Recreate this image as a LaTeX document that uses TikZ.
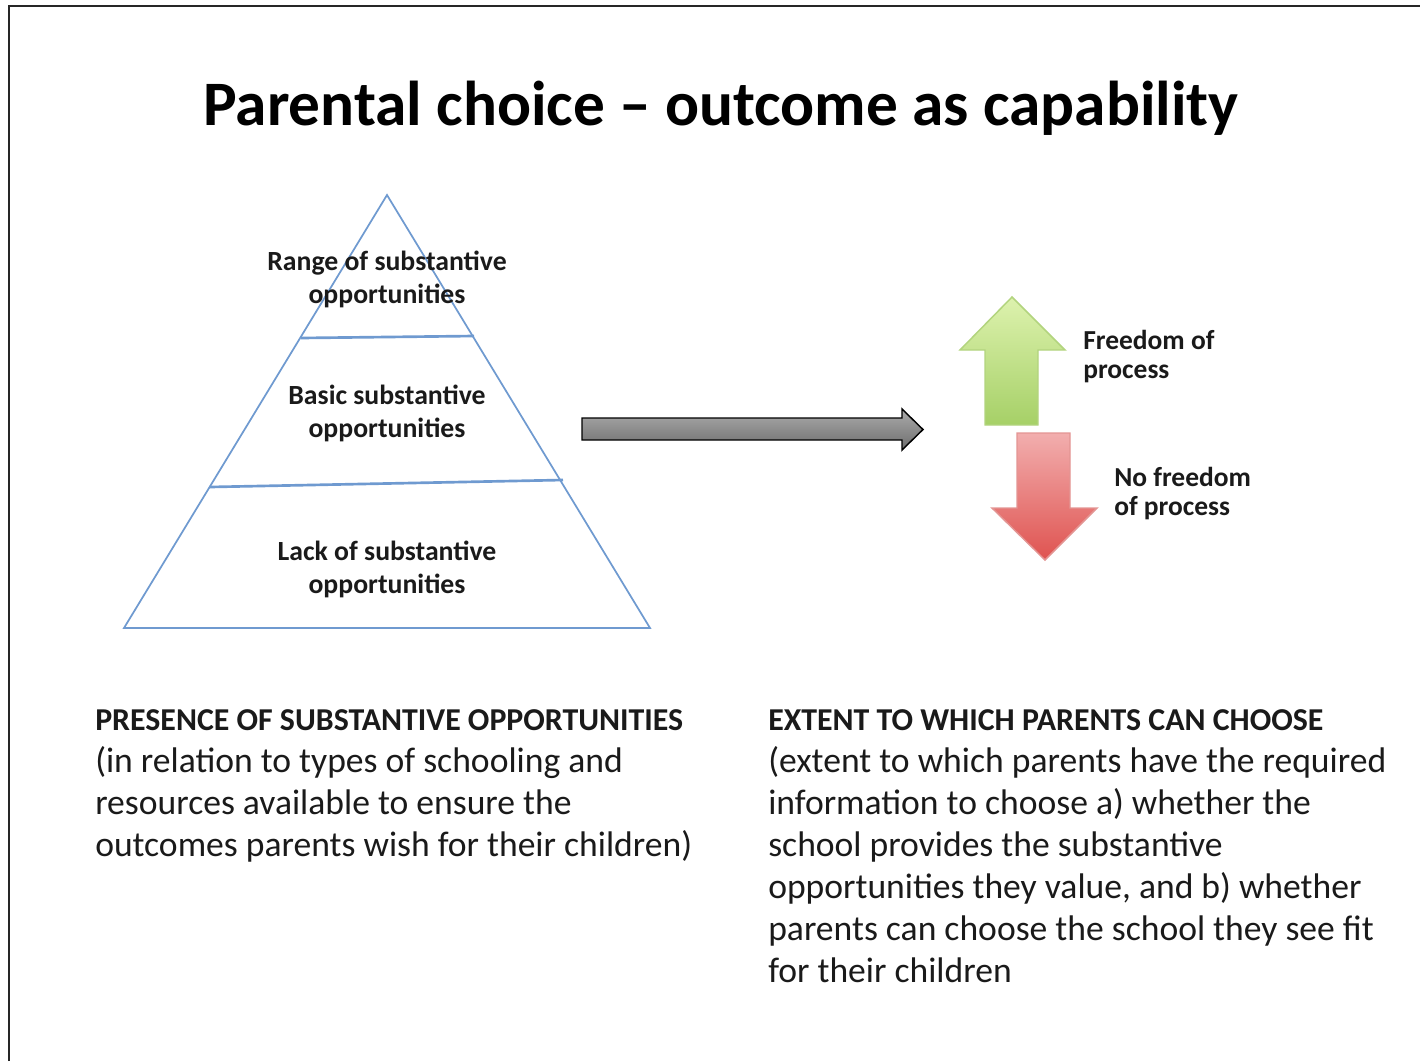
\documentclass[tikz,border=0pt]{standalone}
\usepackage{fontspec}
\setmainfont{Carlito}
\usepackage{tikz}
\usetikzlibrary{positioning,calc}

\definecolor{pyrline}{HTML}{6F9AD0}
\definecolor{textdark}{HTML}{1A1A1A}
\definecolor{greentop}{HTML}{DDF2AE}
\definecolor{greenbot}{HTML}{A6D067}
\definecolor{greenedge}{HTML}{B2D47E}
\definecolor{redtop}{HTML}{F2AEAE}
\definecolor{redbot}{HTML}{DF5350}
\definecolor{rededge}{HTML}{E39593}

\newcommand{\bodyheadfont}{\fontsize{23.9}{31.5}\selectfont\bfseries}

\tikzset{
    pyrlabel/.style={align=center, anchor=base, inner sep=0pt, text=textdark,
        font=\fontsize{20.8}{24.75}\selectfont\bfseries},
    sidelabel/.style={align=left, anchor=base west, inner sep=0pt, text=textdark,
        font=\fontsize{20.6}{21.75}\selectfont\bfseries},
    bodytext/.style={align=left, anchor=base west, inner sep=0pt, text=textdark,
        font=\fontsize{26.7}{31.5}\selectfont},
    blockarrow/.style={line width=1.1pt}
}

\begin{document}
\begin{tikzpicture}[x=0.75pt, y=-0.75pt]
    \useasboundingbox (0,0) rectangle (1420,1061);
    \draw [line width=1.5pt, black!85] (9,1061) -- (9,6) -- (1420,6);

    % Title
    \node [anchor=base, inner sep=0pt, font=\fontsize{47.5}{56}\selectfont\bfseries] (title) at (721,125) {Parental choice – outcome as capability};

    % Pyramid
    \coordinate (apex) at (387,195);
    \coordinate (baseL) at (124,628);
    \coordinate (baseR) at (650,628);
    \draw [pyrline, line width=1.3pt] (apex) -- (baseL) -- (baseR) -- cycle;
    \draw [pyrline, line width=2pt] (301,338) -- (474,336);
    \draw [pyrline, line width=2pt] (210,487) -- (563,480);

    % (last line baselines)
    \foreach \y/\name/\txt in {
        303/range/Range of substantive,
        437/basic/Basic substantive,
        593/lack/Lack of substantive} {
        \node [pyrlabel] (\name) at (387,\y) {\txt\\opportunities};
    }

    % Grey arrow
    \draw [blockarrow, black, top color=gray!65, bottom color=gray!85!black]
        (582,418) -- (902,418) -- (902,409) -- (923,429.5) -- (902,450) -- (902,440) -- (582,440) -- cycle;

    % Up and down arrows
    \draw [blockarrow, greenedge, top color=greentop, bottom color=greenbot]
        (1012,297) -- (1065,350) -- (1038,350) -- (1038,425) -- (985,425) -- (985,350) -- (960,350) -- cycle;
    \draw [blockarrow, rededge, top color=redtop, bottom color=redbot]
        (1017,433) -- (1070,433) -- (1070,508) -- (1097,508) -- (1045,560) -- (992,508) -- (1017,508) -- cycle;

    \node [sidelabel] (freedom) at (1083,378) {Freedom of\\process};
    \node [sidelabel] (nofreedom) at (1114,515) {No freedom\\of process};

    % Bottom texts
    \node [bodytext] (presence) at (95,856) {{\bodyheadfont PRESENCE OF SUBSTANTIVE OPPORTUNITIES}\\
        (in relation to types of schooling and\\
        resources available to ensure the\\
        outcomes parents wish for their children)};
    \node [bodytext] (extent) at (768,982) {{\bodyheadfont EXTENT TO WHICH PARENTS CAN CHOOSE}\\
        (extent to which parents have the required\\
        information to choose a) whether the\\
        school provides the substantive\\
        opportunities they value, and b) whether\\
        parents can choose the school they see fit\\
        for their children};
\end{tikzpicture}
\end{document}
